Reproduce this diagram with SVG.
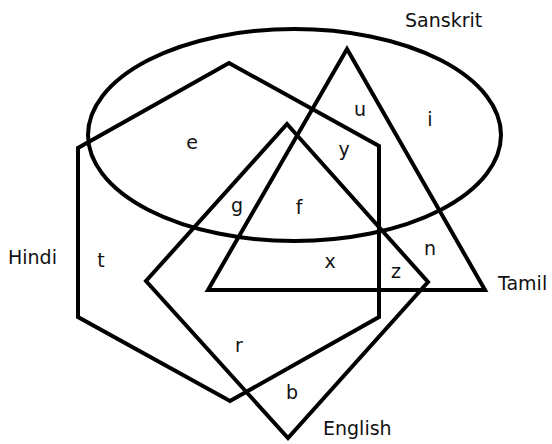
<svg xmlns="http://www.w3.org/2000/svg" width="552" height="444" viewBox="0 0 552 444">
<style>
.s{fill:none;stroke:#000;stroke-width:4;stroke-linejoin:miter}
.t{font-family:"DejaVu Sans","Verdana",sans-serif;font-size:19px;fill:#111}
.c{text-anchor:middle}
</style>
<rect width="552" height="444" fill="#fff"/>
<g id="sanskrit">
<ellipse class="s" cx="294.5" cy="135" rx="206.5" ry="106"/>
<text class="t" x="405" y="27">Sanskrit</text>
</g>
<g id="hindi">
<polygon class="s" points="229,63 379,146 379,317 230,401 78,317 78,148"/>
<text class="t" x="8" y="264">Hindi</text>
</g>
<g id="tamil">
<polygon class="s" points="347,49 485,290 208,290"/>
<text class="t" x="498" y="290">Tamil</text>
</g>
<g id="english">
<polygon class="s" points="287,124 428,282 288,438 146,281"/>
<text class="t" x="323" y="435">English</text>
</g>
<g id="regions">
<text class="t c" x="192" y="149">e</text>
<text class="t c" x="360" y="116">u</text>
<text class="t c" x="430" y="126">i</text>
<text class="t c" x="344" y="156">y</text>
<text class="t c" x="237" y="212">g</text>
<text class="t c" x="299" y="214">f</text>
<text class="t c" x="101" y="267">t</text>
<text class="t c" x="330" y="268">x</text>
<text class="t c" x="396" y="278">z</text>
<text class="t c" x="430" y="255">n</text>
<text class="t c" x="239" y="352">r</text>
<text class="t c" x="292" y="399">b</text>
</g>
<g id="connectors"></g>
</svg>
